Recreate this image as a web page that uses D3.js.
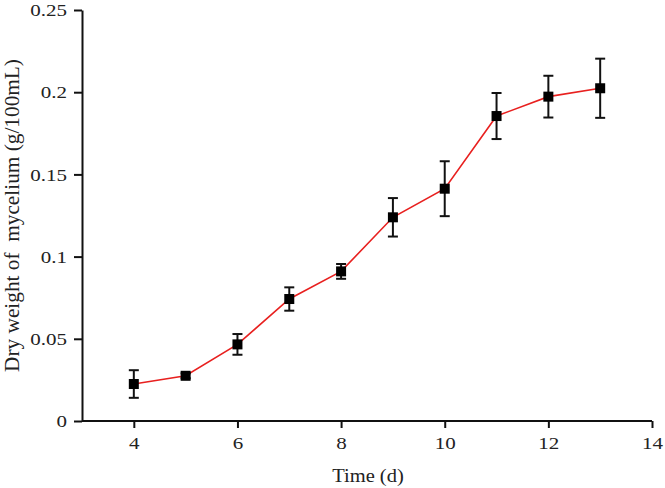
<!DOCTYPE html>
<html>
<head>
<script src="https://cdn.jsdelivr.net/npm/d3@7"></script>
<style type="text/css">
  body{
    background: white;
    margin: 0px;
  }
  text{
    font-family: 'Liberation Serif', 'Times New Roman', serif;
    fill: #222;
  }
  .axis path, .axis line{
    stroke: #111;
    stroke-width: 2px;
  }
  .line{
    fill: none;
    stroke: #e8201f;
    stroke-width: 1.6px;
  }
  .err{
    stroke: #111;
    stroke-width: 2px;
  }
</style>
</head>
<body>
<script>

// days of culture
var days = [4, 5, 6, 7, 8, 9, 10, 11, 12, 13];
// dry weight of mycelium (g/100mL)
var weight = [0.0225, 0.0275, 0.0466, 0.0742, 0.0910, 0.1239, 0.1413, 0.1855, 0.1973, 0.2024];
// error (+/-)
var errors = [0.0084, 0.0015, 0.0063, 0.0071, 0.0045, 0.0117, 0.0167, 0.0140, 0.0127, 0.0180];

var xTicks = [4, 6, 8, 10, 12, 14];
var yTicks = [0, 0.05, 0.1, 0.15, 0.2, 0.25];
var yTickLabels = ["0", "0.05", "0.1", "0.15", "0.2", "0.25"];

var width = 665, height = 488;
var margin = {top: 10, right: 13, bottom: 67, left: 82};
var w = width - margin.left - margin.right,
    h = height - margin.top - margin.bottom;

var svg = d3.select("body").append("svg")
    .attr("width", width)
    .attr("height", height);

var g = svg.append("g")
    .attr("transform", "translate(" + margin.left + "," + margin.top + ")");

var xScale = d3.scaleLinear().domain([3, 14]).range([0, w]);
var yScale = d3.scaleLinear().domain([0, 0.25]).range([h, 0]);

var data = days.map(function(d, i) {
  return {x: d, y: weight[i], e: errors[i]};
});

// axes
var xAxis = g.append("g")
    .attr("class", "axis")
    .attr("transform", "translate(0," + h + ")")
    .call(d3.axisBottom(xScale).tickValues(xTicks).tickSize(7).tickSizeOuter(0).tickPadding(9));

xAxis.selectAll("text")
    .style("font-size", "17.5px")
    .attr("transform", "scale(1.2,1)");

var yAxis = g.append("g")
    .attr("class", "axis")
    .call(d3.axisLeft(yScale).tickValues(yTicks).tickSize(8).tickSizeOuter(0)
      .tickFormat(function(d, i) { return yTickLabels[i]; }));

yAxis.selectAll("text")
    .style("font-size", "17.5px")
    .attr("x", 0)
    .attr("transform", "translate(-15,0) scale(1.2,1)");

xAxis.select(".domain").attr("d", "M0,0H" + w);

// axis titles
g.append("text")
    .attr("x", 0)
    .attr("y", h + 61)
    .attr("text-anchor", "middle")
    .style("font-size", "19.5px")
    .attr("transform", "translate(" + (w / 2 + 1) + ",0) scale(1.05,1)")
    .text("Time (d)");

svg.append("text")
    .attr("transform", "translate(19," + (margin.top + h / 2) + ") rotate(-90)")
    .attr("text-anchor", "middle")
    .style("font-size", "21.3px")
    .style("white-space", "pre")
    .text("Dry weight of  mycelium (g/100mL)");

// line
var line = d3.line()
    .x(function(d) { return xScale(d.x); })
    .y(function(d) { return yScale(d.y); });

g.append("path")
    .datum(data)
    .attr("class", "line")
    .attr("d", line);

// error bars
var eb = g.selectAll(".errbar").data(data).enter().append("g").attr("class", "errbar");

eb.append("line")
    .attr("class", "err")
    .attr("x1", function(d) { return xScale(d.x); })
    .attr("x2", function(d) { return xScale(d.x); })
    .attr("y1", function(d) { return yScale(d.y + d.e); })
    .attr("y2", function(d) { return yScale(d.y - d.e); });

eb.append("line")
    .attr("class", "err")
    .attr("x1", function(d) { return xScale(d.x) - 5; })
    .attr("x2", function(d) { return xScale(d.x) + 5; })
    .attr("y1", function(d) { return yScale(d.y + d.e); })
    .attr("y2", function(d) { return yScale(d.y + d.e); });

eb.append("line")
    .attr("class", "err")
    .attr("x1", function(d) { return xScale(d.x) - 5; })
    .attr("x2", function(d) { return xScale(d.x) + 5; })
    .attr("y1", function(d) { return yScale(d.y - d.e); })
    .attr("y2", function(d) { return yScale(d.y - d.e); });

// square markers
g.selectAll(".pt").data(data).enter().append("rect")
    .attr("class", "pt")
    .attr("x", function(d) { return xScale(d.x) - 5; })
    .attr("y", function(d) { return yScale(d.y) - 5; })
    .attr("width", 10)
    .attr("height", 10)
    .attr("fill", "#000");

</script>
</body>
</html>
